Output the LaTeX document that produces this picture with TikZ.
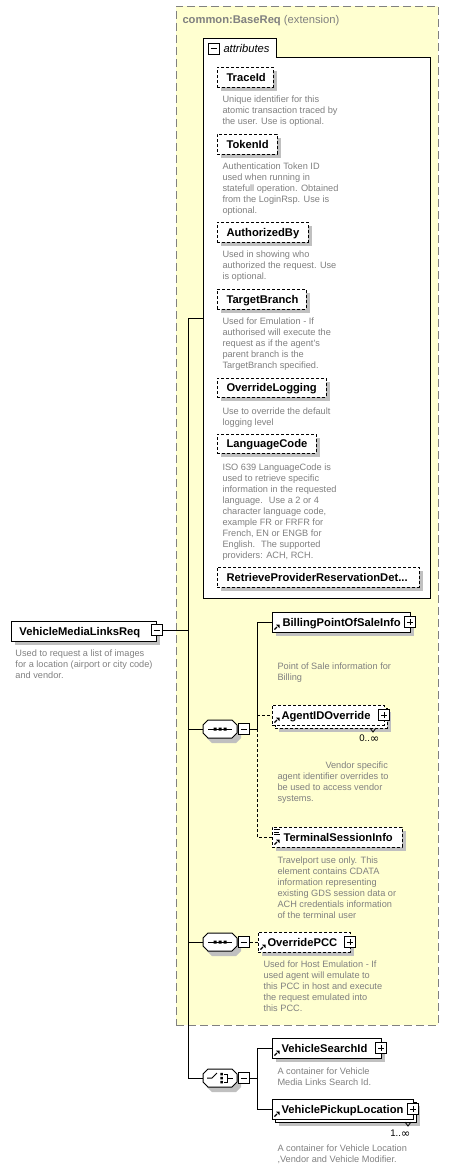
\documentclass[tikz,border=0pt]{standalone}
\usepackage{fontspec}
\setmainfont{Liberation Sans}
\newfontfamily\djv{DejaVu Sans}
\usetikzlibrary{shadows}
\definecolor{yel}{RGB}{255,255,208}
\definecolor{shd}{RGB}{192,192,192}
\definecolor{dgray}{RGB}{128,128,128}
\newcommand\oct[3]{\path[#3] (#1-12,#2-9) -- (#1+12,#2-9) -- (#1+17,#2-4) -- (#1+17,#2+4) -- (#1+12,#2+9) -- (#1-12,#2+9) -- (#1-17,#2+4) -- (#1-17,#2-4) -- cycle;}
\newcommand\refarr[2]{\draw[line width=1.2pt] (#1+2.5,#2-2.5) -- (#1+5,#2-5); \fill (#1+4,#2-7.5) -- (#1+7.5,#2-7.5) -- (#1+7.5,#2-4) -- cycle;}
\newcommand\vnotch[2]{\draw[line width=0.8pt] (#1-3,#2) -- (#1,#2+4) -- (#1+3,#2);}
\newcommand\Z{\rule{0pt}{7pt}}
\newcommand\infy{\raisebox{-1.3pt}{\djv\fontsize{11.5}{11}\selectfont ∞}}
\begin{document}
\begin{tikzpicture}[x=1pt,y=-1pt,line width=1pt,
  box/.style={draw, fill=white, inner sep=0pt, line width=1pt},
  shad/.style={drop shadow={shadow xshift=4pt, shadow yshift=-4pt, fill=shd, opacity=1}},
  opt/.style={dash pattern=on 3pt off 2pt},
  attr/.style={box, opt, shad},
  elem/.style={box, shad},
  hub/.style={inner sep=0pt, minimum width=34pt, minimum height=18pt},
  nm/.style={anchor=base west, inner sep=0pt, font=\fontsize{11.2}{13}\selectfont\bfseries},
  desc/.style={anchor=north west, inner sep=0pt, align=left, text=dgray, font=\fontsize{9.2}{11}\selectfont},
  occ/.style={anchor=base east, inner sep=0pt, font=\fontsize{9.6}{11}\selectfont},
  pm/.style={draw, fill=white, minimum size=11pt, inner sep=0pt, line width=1pt},
  mbox/.style={pm, path picture={\draw[line width=1pt] ([xshift=2.5pt]path picture bounding box.west) -- ([xshift=-2.5pt]path picture bounding box.east);}},
  pbox/.style={pm, path picture={\draw[line width=1pt] ([xshift=2.5pt]path picture bounding box.west) -- ([xshift=-2.5pt]path picture bounding box.east) ([yshift=-2.5pt]path picture bounding box.north) -- ([yshift=2.5pt]path picture bounding box.south);}}
]
\useasboundingbox (0,0) rectangle (455,1170);

% extension base
\node[draw=dgray, fill=yel, dash pattern=on 8pt off 4pt, minimum width=262pt, minimum height=1019pt, inner sep=0pt] (base) at (307,515.5) {};
\node[anchor=base west, inner sep=0pt, text=dgray, font=\fontsize{11.2}{13}\selectfont] (basetitle) at (182,23) {\textbf{common:BaseReq} (extension)};

% attributes group
\draw[fill=white] (203,598) -- (203,38) -- (276,38) -- (276,57) -- (430,57) -- (430,598) -- cycle;
\node[mbox] (attrm) at (213.5,48.5) {};
\node[anchor=base west, inner sep=0pt, font=\fontsize{11.2}{13}\selectfont\itshape] (attrt) at (223,52) {attributes};
\coordinate (attrin) at (203,318);

\node[attr, minimum width=56pt, minimum height=20pt] (traceid) at (245,77) {};
\node[nm] (traceidL) at (226,81) {TraceId};
\node[desc] (traceidD) at (222,95) {\Z Unique identifier for this\\atomic transaction traced by\\the user. Use is optional.};

\node[attr, minimum width=60pt, minimum height=20pt] (tokenid) at (247,144) {};
\node[nm] (tokenidL) at (226,148) {TokenId};
\node[desc] (tokenidD) at (222,161.7) {\Z Authentication Token ID\\used when running in\\statefull operation. Obtained\\from the LoginRsp. Use is\\optional.};

\node[attr, minimum width=91pt, minimum height=20pt] (authby) at (262.5,232) {};
\node[nm] (authbyL) at (226,236) {AuthorizedBy};
\node[desc] (authbyD) at (222,250.3) {\Z Used in showing who\\authorized the request. Use\\is optional.};

\node[attr, minimum width=89pt, minimum height=20pt] (target) at (261.5,299) {};
\node[nm] (targetL) at (226,303) {TargetBranch};
\node[desc] (targetD) at (222,317.3) {\Z Used for Emulation - If\\authorised will execute the\\request as if the agent\textquotesingle s\\parent branch is the\\TargetBranch specified.};

\node[attr, minimum width=109pt, minimum height=19pt] (ovlog) at (271.5,387.5) {};
\node[nm] (ovlogL) at (226,391.5) {OverrideLogging};
\node[desc] (ovlogD) at (222,406.7) {\Z Use to override the default\\logging level};

\node[attr, minimum width=99pt, minimum height=19pt] (lang) at (266.5,443.5) {};
\node[nm] (langL) at (226,447.5) {LanguageCode};
\node[desc] (langD) at (222,462.7) {\Z ISO 639 LanguageCode is\\used to retrieve specific\\information in the requested\\language.~ Use a 2 or 4\\character language code,\\example FR or FRFR for\\French, EN or ENGB for\\English.~ The supported\\providers: ACH, RCH.};

\node[attr, minimum width=202pt, minimum height=20pt] (retr) at (318,577) {};
\node[nm] (retrL) at (226,581) {RetrieveProviderReservationDet...};

% trunk and connectors
\coordinate (t1) at (188,318);
\coordinate (t2) at (188,1078);
\node[hub] (seq1) at (220,729) {};
\node[hub] (seq2) at (220,942) {};
\node[hub] (choice) at (220,1078) {};
\node[mbox] (seq1m) at (243.5,729) {};
\node[mbox] (seq2m) at (243.5,942) {};
\node[mbox] (choicem) at (243.5,1078) {};
\coordinate (b1) at (257,729);
\coordinate (b3) at (257,1078);

% main element
\node[elem, minimum width=145pt, minimum height=20pt] (main) at (83.5,631) {};
\node[nm] (mainL) at (19,635) {VehicleMediaLinksReq};
\node[mbox] (mainm) at (156.5,630) {};
\node[desc] (mainD) at (15,648.7) {\Z Used to request a list of images\\for a location (airport or city code)\\and vendor.};

% element boxes (positions)
\node[elem, minimum width=138pt, minimum height=20pt] (billing) at (341,622) {};
\node[box, opt, shad, minimum width=112pt, minimum height=20pt] (agentback) at (331,718) {};
\node[box, opt, minimum width=112pt, minimum height=20pt] (agent) at (328,715) {};
\node[box, opt, shad, minimum width=130pt, minimum height=20pt] (terminal) at (337,837) {};
\node[box, opt, shad, minimum width=92pt, minimum height=20pt] (opcc) at (304,942) {};
\node[elem, minimum width=109pt, minimum height=20pt] (vsearch) at (326.5,1048) {};
\node[elem, minimum width=141pt, minimum height=20pt] (vpickupback) at (345.5,1112) {};
\node[box, minimum width=141pt, minimum height=20pt] (vpickup) at (342.5,1109) {};

% connectors
\draw (attrin) -- (t1) -- (t2) -- (choice.west);
\draw (mainm.east) -- (mainm.east -| t1);
\draw (t1 |- seq1.west) -- (seq1.west);
\draw (t1 |- seq2.west) -- (seq2.west);
\draw (seq1m.east) -- (b1) |- (billing.west);
\draw[opt] (b1) |- (terminal.west);
\draw[opt] (b1 |- agent.west) -- (agent.west);
\draw[opt] (seq2m.east) -- (opcc.west);
\draw (choicem.east) -- (b3);
\draw (b3) |- (vsearch.west);
\draw (b3) |- (vpickup.west);

% compositors
\oct{224}{734}{fill=shd}
\oct{220}{729}{draw,fill=white}
\draw (208,729) -- (232,729);
\fill (213.5,727.5) rectangle (216.5,730.5) (218.5,727.5) rectangle (221.5,730.5) (223.5,727.5) rectangle (226.5,730.5);
\node[mbox] at (seq1m) {};

\oct{224}{947}{fill=shd}
\oct{220}{942}{draw,fill=white}
\draw (208,942) -- (232,942);
\fill (213.5,940.5) rectangle (216.5,943.5) (218.5,940.5) rectangle (221.5,943.5) (223.5,940.5) rectangle (226.5,943.5);
\node[mbox] at (seq2m) {};

\oct{224}{1083}{fill=shd}
\oct{220}{1078}{draw,fill=white}
\draw (207,1078) -- (212,1078) -- (217,1073);
\fill (220.25,1072.75) rectangle (222.75,1075.25) (220.25,1076.75) rectangle (222.75,1079.25) (220.25,1080.75) rectangle (222.75,1083.25);
\draw (224,1074) -- (227,1074) -- (227,1082) -- (224,1082);
\draw (227,1078) -- (233,1078);
\node[mbox] at (choicem) {};

% element labels and decorations
\node[nm] (billingL) at (282,626) {BillingPointOfSaleInfo};
\node[pbox] (billingp) at (410,622) {};
\refarr{272}{632}
\node[desc] (billingD) at (277,661.7) {\Z Point of Sale information for\\Billing};

\node[nm] (agentL) at (281,719) {AgentIDOverride};
\node[pbox] (agentp) at (384,715) {};
\refarr{272}{725}
\vnotch{373}{728}
\node[occ] (agentO) at (380,741) {0..\infy};
\node[desc] (agentD) at (277,761.3) {\Z\hspace*{48pt}Vendor specific\\agent identifier overrides to\\be used to access vendor\\systems.};

\node[nm] (terminalL) at (283,841) {TerminalSessionInfo};
\refarr{272}{847}
\draw[line width=0.8pt] (274,829.5) -- (280,829.5) (274,832) -- (279,832) (274,834.5) -- (280,834.5);
\node[desc] (terminalD) at (277,856) {\Z Travelport use only. This\\element contains CDATA\\information representing\\existing GDS session data or\\ACH credentials information\\of the terminal user};

\node[nm] (opccL) at (267,946) {OverridePCC};
\node[pbox] (opccp) at (350,942) {};
\refarr{258}{952}
\node[desc] (opccD) at (263,960.3) {\Z Used for Host Emulation - If\\used agent will emulate to\\this PCC in host and execute\\the request emulated into\\this PCC.};

\node[nm] (vsearchL) at (281,1052) {VehicleSearchId};
\node[pbox] (vsearchp) at (381,1048) {};
\refarr{272}{1058}
\node[desc] (vsearchD) at (277,1067) {\Z A container for Vehicle\\Media Links Search Id.};

\node[nm] (vpickupL) at (281,1113) {VehiclePickupLocation};
\node[pbox] (vpickupp) at (413,1109) {};
\refarr{272}{1119}
\vnotch{408}{1122}
\node[occ] (vpickupO) at (411,1136) {1..\infy};
\node[desc] (vpickupD) at (277,1144.3) {\Z A container for Vehicle Location\\,Vendor and Vehicle Modifier.};
\end{tikzpicture}
\end{document}
